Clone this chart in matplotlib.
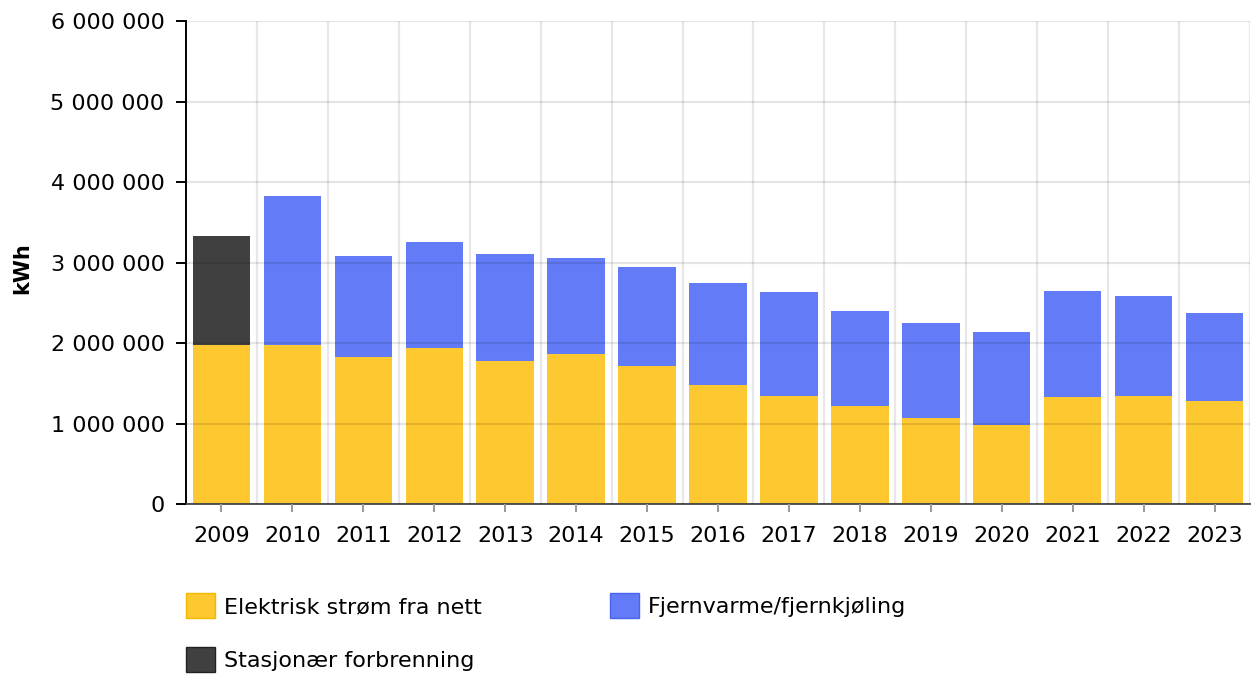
import matplotlib.pyplot as plt
from matplotlib.ticker import FuncFormatter
from matplotlib.patches import Patch

years = ['2009', '2010', '2011', '2012', '2013', '2014', '2015', '2016',
         '2017', '2018', '2019', '2020', '2021', '2022', '2023']
strom = [1975000, 1975000, 1826000, 1938000, 1776000, 1863000, 1714000, 1478000,
         1342000, 1217000, 1068000, 981000, 1329000, 1342000, 1280000]
fjernvarme = [0, 1851000, 1255000, 1317000, 1330000, 1193000, 1230000, 1267000,
              1292000, 1181000, 1180000, 1156000, 1317000, 1242000, 1093000]
stasjonaer = [1355000, 0, 0, 0, 0, 0, 0, 0, 0, 0, 0, 0, 0, 0, 0]

yellow = '#FDC830'
blue = '#637BF7'
dark = '#404040'

plt.rcParams['font.family'] = 'DejaVu Sans'
fs = 16

fig = plt.figure(figsize=(12.58, 6.75), dpi=100)
ax = fig.add_axes([186 / 1258, 1 - 504 / 675, (1250 - 186) / 1258, (504 - 21) / 675])

x = range(len(years))
w = 0.81
ax.bar(x, strom, width=w, color=yellow, zorder=1)
bottom2 = [s + f for s, f in zip(strom, fjernvarme)]
ax.bar(x, fjernvarme, width=w, bottom=strom, color=blue, zorder=1)
ax.bar(x, stasjonaer, width=w, bottom=bottom2, color=dark, zorder=1)

ax.set_xlim(-0.5, len(years) - 0.5)
ax.set_ylim(0, 6000000)
ax.set_yticks(range(0, 6000001, 1000000))
ax.yaxis.set_major_formatter(FuncFormatter(lambda v, p: f'{int(v):,}'.replace(',', ' ')))
ax.set_xticks(list(x))
ax.set_xticklabels(years)
ax.set_xticks([i + 0.5 for i in x], minor=True)

# grid over bars, faint
ax.grid(axis='y', which='major', color='black', alpha=0.1, linewidth=1.6, zorder=2)
ax.grid(axis='x', which='minor', color='black', alpha=0.09, linewidth=1.6, zorder=2)
ax.set_axisbelow(False)

for s in ['top', 'right']:
    ax.spines[s].set_visible(False)
ax.spines['left'].set_color('black')
ax.spines['left'].set_linewidth(1.4)
ax.spines['bottom'].set_color('#555555')
ax.spines['bottom'].set_linewidth(1.4)
ax.tick_params(axis='y', length=7.5, width=1.4, color='black', labelsize=fs, pad=8)
ax.tick_params(axis='x', which='major', length=6, width=1.4, color='#999999', labelsize=fs, pad=10)
ax.tick_params(axis='x', which='minor', length=0)

ax.set_ylabel('kWh', fontsize=15, fontweight='bold')
ax.yaxis.set_label_coords((32 - 186) / 1064, (504 - 268) / 483)

handles = [Patch(facecolor=yellow, edgecolor='#F2B800', label='Elektrisk strøm fra nett'),
           Patch(facecolor=dark, edgecolor='#222222', label='Stasjonær forbrenning'),
           Patch(facecolor=blue, edgecolor='#4A62EE', label='Fjernvarme/fjernkjøling')]
fig.legend(handles=handles, ncol=2, loc='upper left', bbox_to_anchor=(166 / 1258, 1 - 573 / 675),
           frameon=False, fontsize=fs, handlelength=1.3, handleheight=1.35,
           handletextpad=0.4, columnspacing=5.8, labelspacing=1.3)

fig.savefig('out.png', dpi=100)
